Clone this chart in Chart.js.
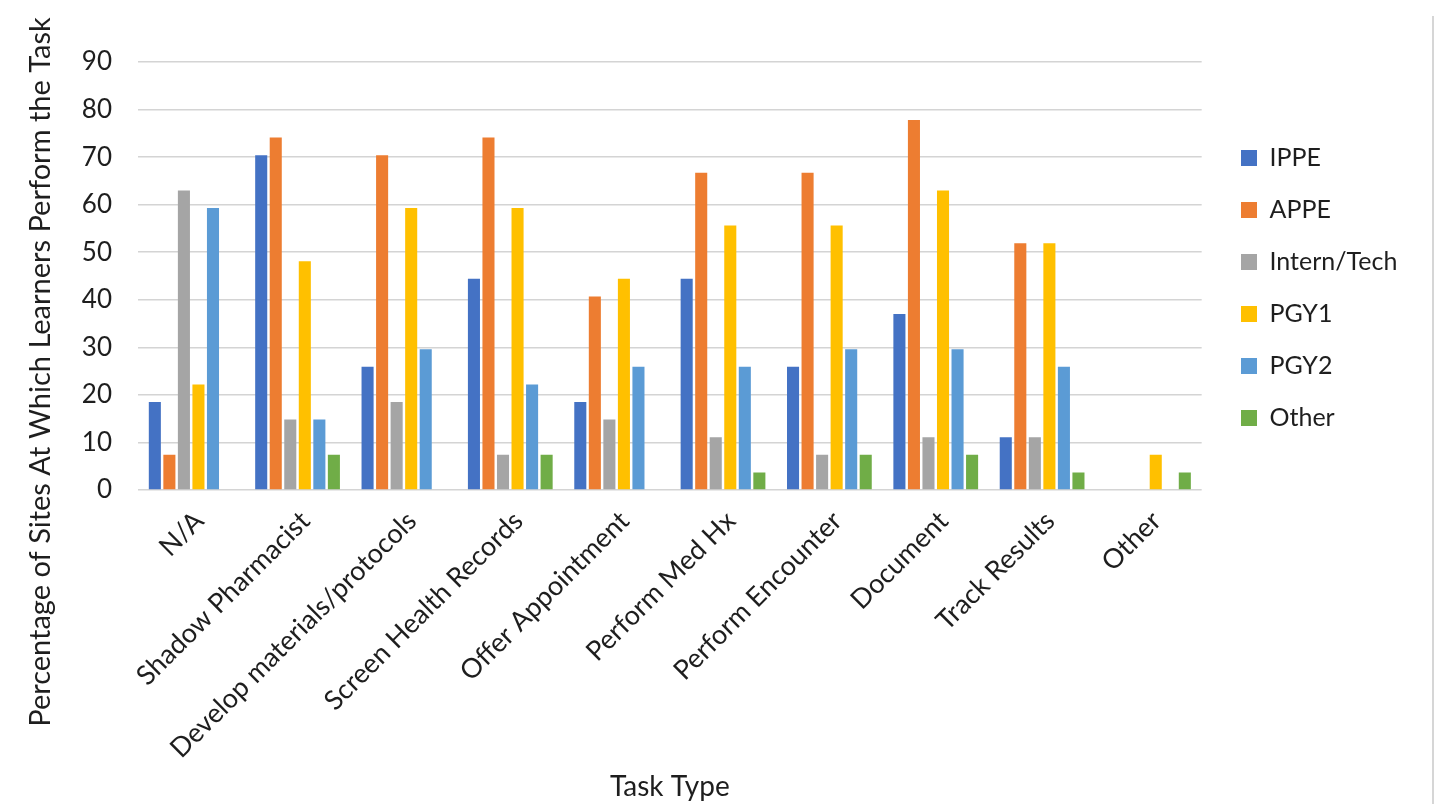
<!DOCTYPE html>
<html>
<head>
<meta charset="utf-8">
<script src="https://cdn.jsdelivr.net/npm/chart.js@4/dist/chart.umd.min.js"></script>
<style>
  html, body { margin: 0; padding: 0; background: #ffffff; }
  #wrap { position: relative; width: 1435px; height: 804px; }
  #frame { position: absolute; left: 1432px; top: 16px; width: 2px; height: 788px; background: #d6d6d6; }
</style>
</head>
<body>
<div id="wrap">
  <canvas id="chart" width="1435" height="804"></canvas>
  <div id="frame"></div>
</div>
<script>
// Task types along the horizontal axis
const categories = [
  'N/A', 'Shadow Pharmacist', 'Develop materials/protocols', 'Screen Health Records',
  'Offer Appointment', 'Perform Med Hx', 'Perform Encounter', 'Document',
  'Track Results', 'Other'
];

// Percentage of sites (n = 27) at which each learner type performs the task
const ippe       = [18.5, 70.4, 25.9, 44.4, 18.5, 44.4, 25.9, 37.0, 11.1, 0];
const appe       = [7.4, 74.1, 70.4, 74.1, 40.7, 66.7, 66.7, 77.8, 51.9, 0];
const internTech = [63.0, 14.8, 18.5, 7.4, 14.8, 11.1, 7.4, 11.1, 11.1, 0];
const pgy1       = [22.2, 48.1, 59.3, 59.3, 44.4, 55.6, 55.6, 63.0, 51.9, 7.4];
const pgy2       = [59.3, 14.8, 29.6, 22.2, 25.9, 25.9, 29.6, 29.6, 25.9, 0];
const otherLearn = [0, 7.4, 0, 7.4, 0, 3.7, 7.4, 7.4, 3.7, 3.7];

const seriesNames = ['IPPE', 'APPE', 'Intern/Tech', 'PGY1', 'PGY2', 'Other'];
const yTicks = [0, 10, 20, 30, 40, 50, 60, 70, 80, 90];

const yTitle = 'Percentage of Sites At Which Learners Perform the Task';
const xTitle = 'Task Type';

const colors = ['#4472C4', '#ED7D31', '#A5A5A5', '#FFC000', '#5B9BD5', '#70AD47'];
const FONT = 'Lato, "Open Sans", sans-serif';
const TEXT = '#1e1e1e';

const allSeries = [ippe, appe, internTech, pgy1, pgy2, otherLearn];

// Legend placement tweak and the rotated y-axis title
const layoutPlugin = {
  id: 'layoutTweaks',
  afterLayout(chart) {
    // keep the legend block a little right of the plot and lower
    const l = chart.legend;
    if (!l) return;
    const w = l.right - l.left;
    l.left = 1214; l.right = 1214 + w;
    l.top += 12; l.bottom += 12;
  },
  afterDraw(chart) {
    const ctx = chart.ctx;
    ctx.save();
    ctx.translate(41, 372);
    ctx.rotate(-Math.PI / 2);
    ctx.font = '29px ' + FONT;
    ctx.fillStyle = TEXT;
    ctx.textAlign = 'center';
    ctx.textBaseline = 'middle';
    ctx.fillText(yTitle, 0, 0);
    ctx.restore();
  }
};

new Chart(document.getElementById('chart'), {
  type: 'bar',
  data: {
    labels: categories,
    datasets: allSeries.map((vals, i) => ({
      label: seriesNames[i],
      data: vals,
      backgroundColor: colors[i],
      borderWidth: 0,
      categoryPercentage: 0.82,
      barPercentage: 0.83
    }))
  },
  options: {
    responsive: false,
    animation: false,
    layout: { padding: { top: 62, right: 40, bottom: 0, left: 0 } },
    plugins: {
      legend: {
        position: 'right',
        fullSize: false,
        labels: {
          color: TEXT,
          font: { family: FONT, size: 25 },
          boxWidth: 16,
          boxHeight: 16,
          padding: 27
        }
      },
      tooltip: { enabled: false }
    },
    scales: {
      x: {
        grid: { display: false },
        border: { display: false },
        ticks: {
          color: TEXT,
          font: { family: FONT, size: 27 },
          minRotation: 45,
          maxRotation: 45,
          padding: 7,
          labelOffset: 8,
          autoSkip: false
        },
        title: {
          display: true,
          text: xTitle,
          color: TEXT,
          font: { family: FONT, size: 28 },
          padding: { top: 0, bottom: 0 }
        },
        afterFit(scale) { scale.height = 804 - 490; }
      },
      y: {
        min: 0,
        max: 90,
        afterBuildTicks(scale) { scale.ticks = yTicks.map(v => ({ value: v })); },
        grid: { color: '#d4d4d4', lineWidth: 1.5, drawTicks: false },
        border: { display: false },
        ticks: {
          color: TEXT,
          font: { family: FONT, size: 26 },
          padding: 26
        },
        afterFit(scale) { scale.width = 138; }
      }
    }
  },
  plugins: [layoutPlugin]
});
</script>
</body>
</html>
